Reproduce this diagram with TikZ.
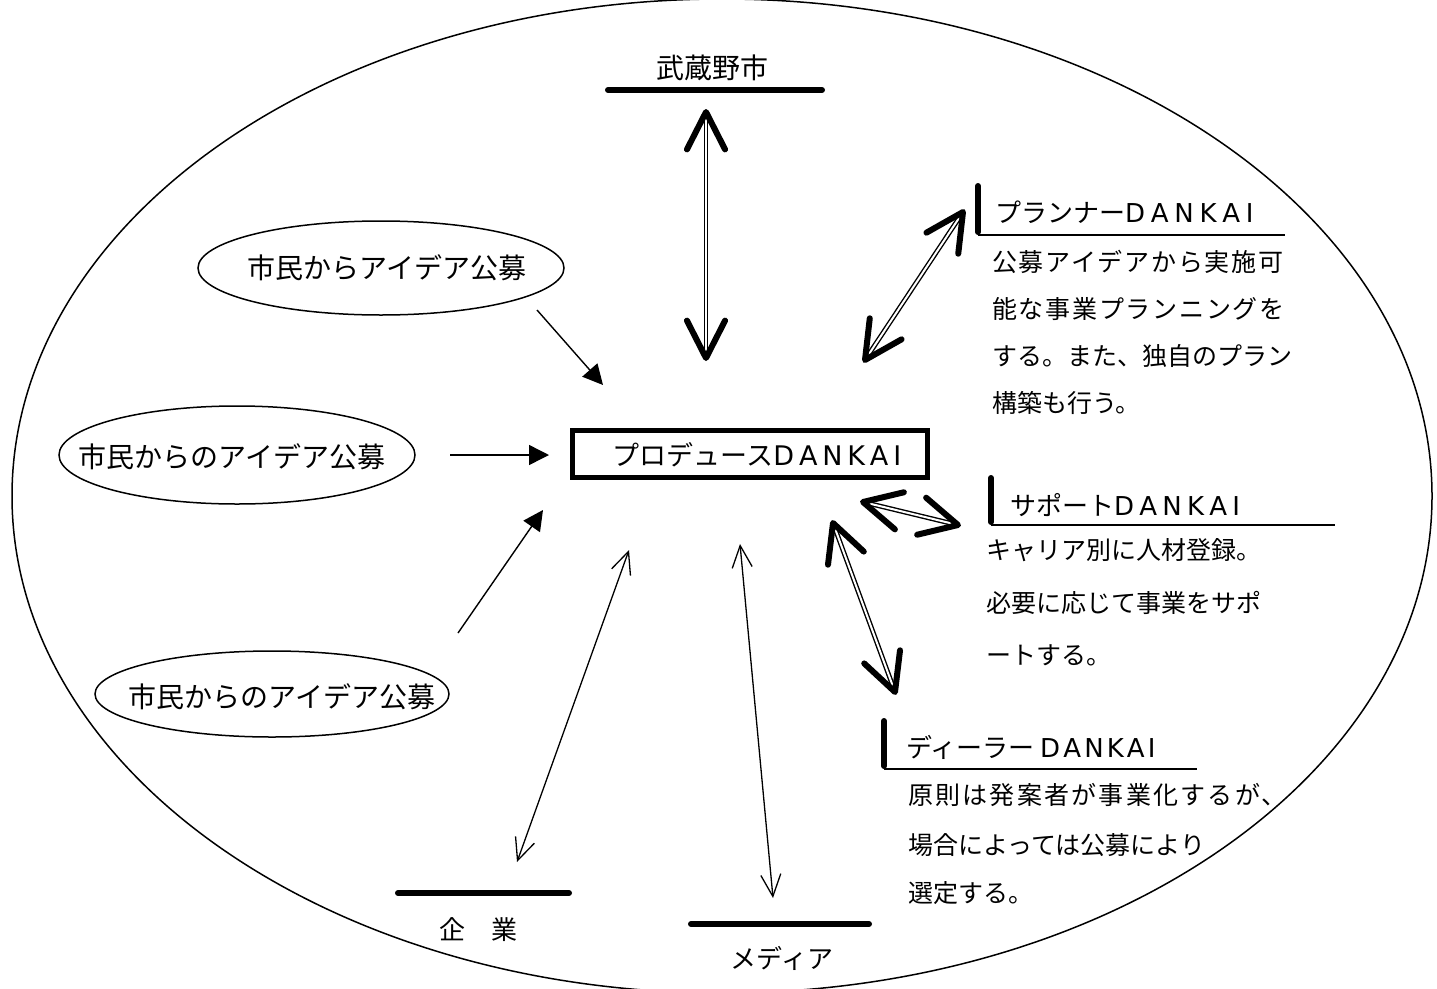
\documentclass[tikz,border=0pt]{standalone}
\usepackage{fontspec}
\setmainfont{Noto Sans CJK JP}
\newfontfamily\lat{DejaVu Sans}
\usetikzlibrary{arrows.meta,shapes.geometric,calc}
\newcommand\dk[1]{{\lat D\kern#1A\kern#1N\kern#1K\kern#1A\kern#1I}}
\newcommand\dblarr[2]{%
  \draw[dblshaft,shorten <=4pt,shorten >=4pt] (#1) -- (#2);
  \draw[bighead] ($(#1)!42pt!27:(#2)$) -- (#1) -- ($(#1)!42pt!-27:(#2)$);
  \draw[bighead] ($(#2)!42pt!27:(#1)$) -- (#2) -- ($(#2)!42pt!-27:(#1)$);}
\begin{document}
\begin{tikzpicture}[x=1pt,y=-1pt,
  thickbar/.style={line width=6pt,line cap=round},
  titleline/.style={line width=2pt},
  smallell/.style={ellipse,draw,line width=1.5pt,inner sep=0pt},
  fillarrow/.style={line width=1.4pt,-{Triangle[length=20pt,width=20pt]}},
  thinarrow/.style={line width=1.3pt,{Straight Barb[length=22pt,width=20pt]}-{Straight Barb[length=22pt,width=20pt]}},
  dblshaft/.style={double,double distance=2pt,line width=1.4pt},
  bighead/.style={line width=6pt,line cap=round,line join=round},
  big/.style={font=\fontsize{28}{34}\selectfont},
  mid/.style={font=\fontsize{27}{34}\selectfont},
  ttl/.style={font=\fontsize{26}{32}\selectfont,anchor=west,inner sep=0pt},
  body/.style={font=\fontsize{25}{30}\selectfont,anchor=west,inner sep=0pt},
  lbl/.style={font=\fontsize{26}{32}\selectfont}]
\useasboundingbox (0,0) rectangle (1437,988);
% outer ellipse
\draw[line width=1.5pt] (722,496) ellipse [x radius=710, y radius=497];

% Musashino city
\node[big] (musashino) at (712,68) {武蔵野市};
\coordinate (mL) at (608,90); \coordinate (mR) at (822,90);
\draw[thickbar] (mL) -- (mR);
\coordinate (vT) at (706,112); \coordinate (vB) at (706,358);
\dblarr{vT}{vB}

% idea ellipses
\node[smallell,minimum width=366pt,minimum height=94pt] (eA) at (381,268) {};
\node[big] (tA) at (387,268) {市民からアイデア公募};
\node[smallell,minimum width=356pt,minimum height=98pt] (eB) at (237,455) {};
\node[big] (tB) at (232,457) {市民からのアイデア公募};
\node[smallell,minimum width=354pt,minimum height=86pt] (eC) at (272,694) {};
\node[big] (tC) at (282,697) {市民からのアイデア公募};

% produce box
\node[draw,line width=5pt,minimum width=355pt,minimum height=47pt] (prod) at (750,454) {};
\node[mid] (tprod) at (757,455) {プロデュース\dk{.18em}};

% idea arrows
\coordinate (aA1) at (537,310); \coordinate (aA2) at (603,385);
\draw[fillarrow] (aA1) -- (aA2);
\coordinate (aB1) at (450,455); \coordinate (aB2) at (549,455);
\draw[fillarrow] (aB1) -- (aB2);
\coordinate (aC1) at (458,633); \coordinate (aC2) at (543,510);
\draw[fillarrow] (aC1) -- (aC2);

% planner
\coordinate (pT) at (963,212); \coordinate (pB) at (865,360);
\dblarr{pT}{pB}
\coordinate (pbT) at (978,186); \coordinate (pbB) at (978,232);
\draw[thickbar] (pbT) -- (pbB);
\coordinate (plL) at (978,235); \coordinate (plR) at (1285,235);
\draw[titleline] (plL) -- (plR);
\node[ttl] (tplan) at (995,212) {プランナー\dk{.22em}};
\node[body] (p1) at (992,262) {\addfontfeature{LetterSpace=7}公募アイデアから実施可};
\node[body] (p2) at (992,309) {\addfontfeature{LetterSpace=7}能な事業プランニングを};
\node[body] (p3) at (992,356) {する。また、独自のプラン};
\node[body] (p4) at (992,403) {構築も行う。};

% support
\coordinate (sL) at (863,502); \coordinate (sR) at (958,525);
\dblarr{sL}{sR}
\coordinate (sbT) at (991,478); \coordinate (sbB) at (991,522);
\draw[thickbar] (sbT) -- (sbB);
\coordinate (slL) at (991,525); \coordinate (slR) at (1335,525);
\draw[titleline] (slL) -- (slR);
\node[ttl] (tsup) at (1010,505) {サポート\dk{.2em}};
\node[body] (s1) at (986,550) {キャリア別に人材登録。};
\node[body] (s2) at (986,603) {必要に応じて事業をサポ};
\node[body] (s3) at (986,655) {ートする。};

% dealer
\coordinate (dT) at (833,523); \coordinate (dB) at (895,692);
\dblarr{dT}{dB}
\coordinate (dbT) at (884,721); \coordinate (dbB) at (884,766);
\draw[thickbar] (dbT) -- (dbB);
\coordinate (dlL) at (884,769); \coordinate (dlR) at (1197,769);
\draw[titleline] (dlL) -- (dlR);
\node[ttl] (tdeal) at (906,747) {ディーラー \dk{.12em}};
\node[body] (d1) at (908,795) {\addfontfeature{LetterSpace=9}原則は発案者が事業化するが、};
\node[body] (d2) at (908,845) {場合によっては公募により};
\node[body] (d3) at (908,893) {選定する。};

% company and media
\coordinate (cT) at (629,550); \coordinate (cB) at (517,862);
\draw[thinarrow] (cT) -- (cB);
\coordinate (mdT) at (740,544); \coordinate (mdB) at (773,898);
\draw[thinarrow] (mdT) -- (mdB);
\coordinate (kL) at (398,893); \coordinate (kR) at (569,893);
\draw[thickbar] (kL) -- (kR);
\node[lbl] (tkig) at (478,930) {企　業};
\coordinate (meL) at (691,924); \coordinate (meR) at (869,924);
\draw[thickbar] (meL) -- (meR);
\node[lbl] (tmed) at (782,958) {メディア};
\end{tikzpicture}
\end{document}
